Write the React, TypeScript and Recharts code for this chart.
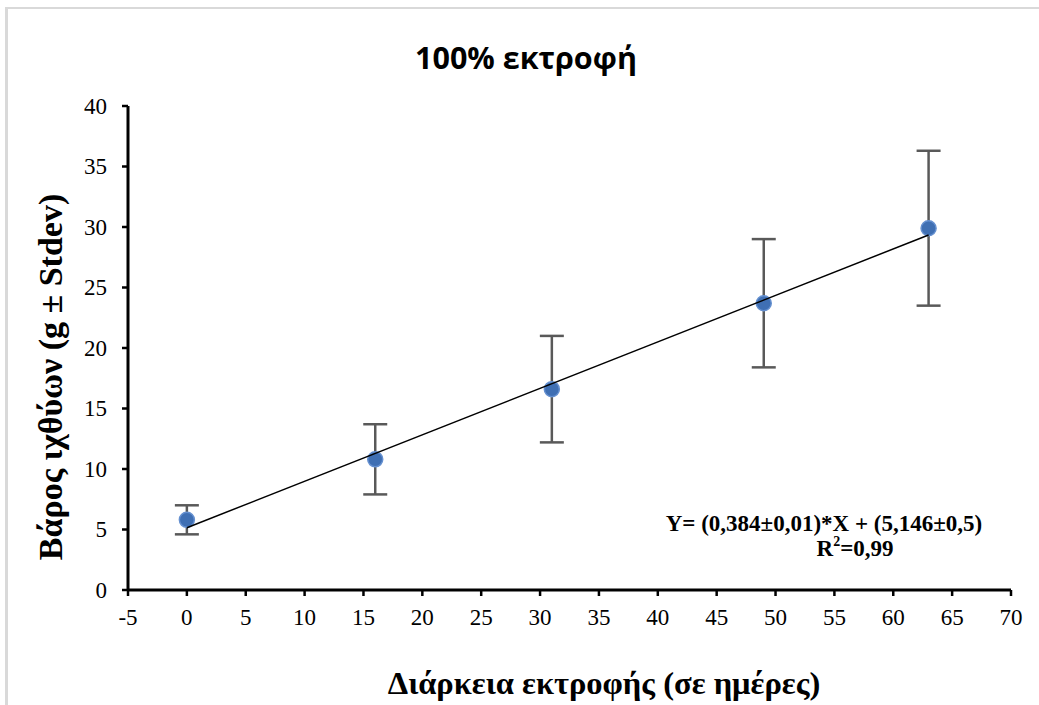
import React from 'react';
import { ScatterChart, Scatter, XAxis, YAxis, ErrorBar, Customized } from 'recharts';

const days = [0, 16, 31, 49, 63];
const weights = [5.8, 10.8, 16.6, 23.7, 29.9];
const stdevs = [1.2, 2.9, 4.4, 5.3, 6.4];
const trendDays = [0, 63];
const trendWeights = [5.146, 29.34];
const xTicks = [-5, 0, 5, 10, 15, 20, 25, 30, 35, 40, 45, 50, 55, 60, 65, 70];
const yTicks = [0, 5, 10, 15, 20, 25, 30, 35, 40];

const titleText = '100% εκτροφή';
const xLabel = 'Διάρκεια εκτροφής (σε ημέρες)';
const yLabel = 'Βάρος ιχθύων (g ± Stdev)';
const eqLine1 = 'Y= (0,384±0,01)*X + (5,146±0,5)';

const points = days.map((d, i) => ({ x: d, y: weights[i], sd: stdevs[i] }));
const trend = trendDays.map((d, i) => ({ x: d, y: trendWeights[i] }));

const serif = 'Liberation Serif';
const sans = 'Open Sans';

const Texts = () => (
  <g>
    <text x={526} y={57} textAnchor="middle" dominantBaseline="central"
      fontFamily={sans} fontWeight={700} fontSize={30.5} fill="#000">
      {titleText}
    </text>
    <text x={604} y={683} textAnchor="middle" dominantBaseline="central"
      fontFamily={serif} fontWeight={700} fontSize={32.5} fill="#000">
      {xLabel}
    </text>
    <text x={50} y={377} textAnchor="middle" dominantBaseline="central"
      transform="rotate(-90 50 377)"
      fontFamily={serif} fontWeight={700} fontSize={34} fill="#000">
      {yLabel}
    </text>
    <text x={824} y={523} textAnchor="middle" dominantBaseline="central"
      fontFamily={serif} fontWeight={700} fontSize={23} fill="#000">
      {eqLine1}
    </text>
    <text x={855} y={548} textAnchor="middle" dominantBaseline="central"
      fontFamily={serif} fontWeight={700} fontSize={23} fill="#000">
      R<tspan fontSize={14} dy={-7}>2</tspan><tspan dy={7}>=0,99</tspan>
    </text>
  </g>
);

const XTick = (p: any) => (
  <text x={p.x} y={p.y} dy={12} textAnchor="middle" dominantBaseline="central"
    fontFamily={serif} fontSize={23} fill="#000">
    {p.payload.value}
  </text>
);

const YTick = (p: any) => (
  <text x={p.x} y={p.y} textAnchor="end" dominantBaseline="central"
    fontFamily={serif} fontSize={23} fill="#000">
    {p.payload.value}
  </text>
);

export default function App() {
  return (
    <div style={{ position: 'absolute', left: 0, top: 0, width: 1039, height: 705, background: '#fff' }}>
      <div style={{ position: 'absolute', left: 5, top: 7, width: 1034, height: 2, background: '#d9d9d9' }} />
      <div style={{ position: 'absolute', left: 5, top: 7, width: 3, height: 698, background: '#d9d9d9' }} />
      <div style={{ position: 'absolute', left: 0, top: 0 }}>
        <ScatterChart width={1039} height={705} margin={{ top: 106, right: 28, bottom: 75, left: 68 }}>
          <XAxis
            type="number"
            dataKey="x"
            domain={[-5, 70]}
            ticks={xTicks}
            interval={0}
            allowDataOverflow
            axisLine={{ stroke: '#000', strokeWidth: 3 }}
            tickLine={{ stroke: '#000', strokeWidth: 2.5 }}
            tickSize={6}
            tickMargin={9}
            height={40}
            tick={XTick}
          />
          <YAxis
            type="number"
            dataKey="y"
            domain={[0, 40]}
            ticks={yTicks}
            interval={0}
            allowDataOverflow
            axisLine={{ stroke: '#000', strokeWidth: 3 }}
            tickLine={{ stroke: '#000', strokeWidth: 2.5 }}
            tickSize={6}
            tickMargin={15}
            width={60}
            tick={YTick}
          />
          <Scatter data={points} fill="#3f6fb3" isAnimationActive={false}
            shape={(p: any) => <circle cx={p.cx} cy={p.cy} r={7.5} fill="#3f6fb3" stroke="#6590d0" strokeWidth={1.5} />}>
            <ErrorBar dataKey="sd" direction="y" width={12} stroke="#595959" strokeWidth={2.5} isAnimationActive={false} />
          </Scatter>
          <Scatter data={trend} line={{ stroke: '#000', strokeWidth: 1.5 }} shape={() => <g />} isAnimationActive={false} legendType="none" />
          <Customized component={Texts} />
        </ScatterChart>
      </div>
    </div>
  );
}
